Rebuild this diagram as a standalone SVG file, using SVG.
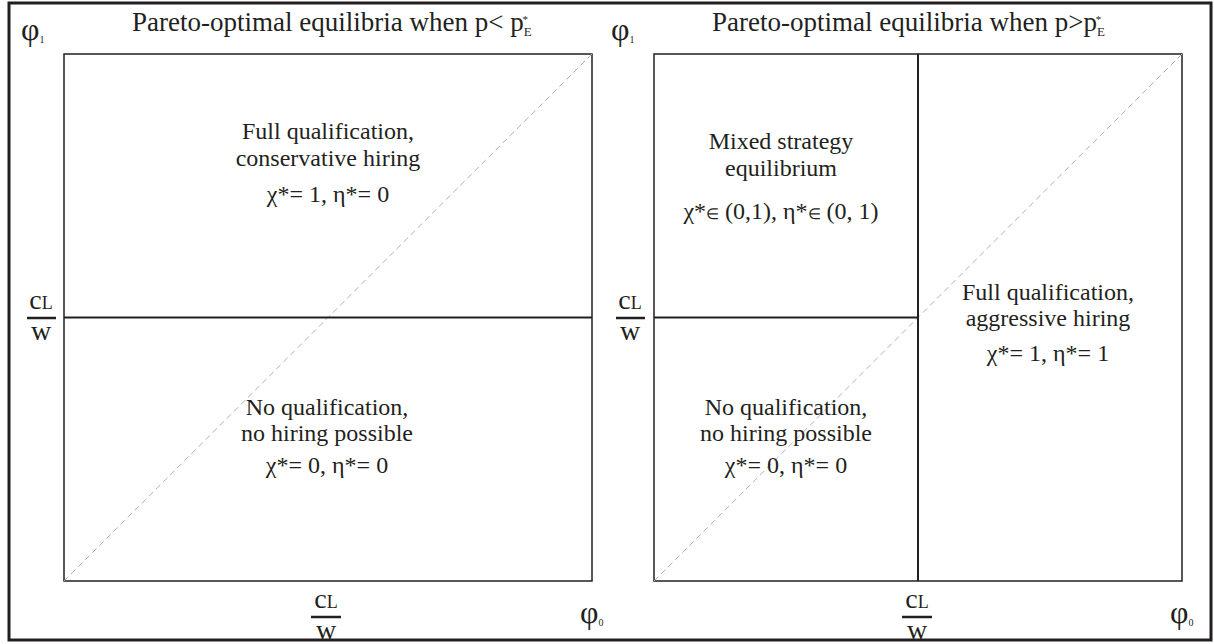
<svg xmlns="http://www.w3.org/2000/svg" width="1214" height="644" viewBox="0 0 1214 644">
<style>
text{font-family:"Liberation Serif","Times New Roman",serif;fill:#231f20}
.t{font-size:27px}
.r{font-size:24px;text-anchor:middle}
.phi{font-size:32px}
.sub{font-size:10px}
.frac{font-size:28px;text-anchor:middle}
.box{fill:none;stroke:#231f20;stroke-width:1.5}
.div{stroke:#231f20;stroke-width:2}
.diag{stroke:#b0b0b0;stroke-width:1;stroke-dasharray:6 4}
.bar{stroke:#231f20;stroke-width:2.5}
</style>
<rect x="0" y="0" width="1214" height="644" fill="#fff"/>
<rect x="9" y="3" width="1202" height="637" fill="none" stroke="#231f20" stroke-width="3"/>

<g id="panel-left">
<rect class="box" x="64" y="54" width="528" height="527"/>
<text class="t" font-family="Liberation Serif, serif" x="132" y="31">Pareto-optimal equilibria when p&lt; p<tspan font-size="13" dy="5">E</tspan><tspan font-size="11" dx="-9" dy="-13">*</tspan></text>
<text class="phi" font-family="Liberation Serif, serif" x="21" y="40">φ<tspan class="sub" dy="3">1</tspan></text>
<text class="phi" font-family="Liberation Serif, serif" x="580" y="623">φ<tspan class="sub" dy="3">0</tspan></text>
</g>

<g id="panel-right">
<rect class="box" x="654" y="54" width="528" height="527"/>
<text class="t" font-family="Liberation Serif, serif" x="712" y="31">Pareto-optimal equilibria when p&gt;p<tspan font-size="13" dy="5">E</tspan><tspan font-size="11" dx="-9" dy="-13">*</tspan></text>
<text class="phi" font-family="Liberation Serif, serif" x="611" y="40">φ<tspan class="sub" dy="3">1</tspan></text>
<text class="phi" font-family="Liberation Serif, serif" x="1170" y="623">φ<tspan class="sub" dy="3">0</tspan></text>
</g>

<g id="connectors">
<line class="diag" x1="64" y1="581" x2="592" y2="54"/>
<line class="diag" x1="654" y1="581" x2="1182" y2="54"/>
<line class="div" x1="64" y1="317.5" x2="592" y2="317.5"/>
<line class="div" x1="918" y1="54" x2="918" y2="581"/>
<line class="div" x1="654" y1="317.5" x2="918" y2="317.5"/>
</g>

<g id="axis-left-y">
<text class="frac" font-family="Liberation Serif, serif" x="41" y="309">c<tspan font-size="18">L</tspan></text>
<line class="bar" x1="27" y1="318" x2="56" y2="318"/>
<text class="frac" font-family="Liberation Serif, serif" x="41" y="340">w</text>
</g>
<g id="axis-left-x">
<text class="frac" font-family="Liberation Serif, serif" x="326" y="608">c<tspan font-size="18">L</tspan></text>
<line class="bar" x1="311" y1="617" x2="341" y2="617"/>
<text class="frac" font-family="Liberation Serif, serif" x="326" y="639">w</text>
</g>
<g id="axis-right-y">
<text class="frac" font-family="Liberation Serif, serif" x="630" y="309">c<tspan font-size="18">L</tspan></text>
<line class="bar" x1="616" y1="318" x2="645" y2="318"/>
<text class="frac" font-family="Liberation Serif, serif" x="630" y="340">w</text>
</g>
<g id="axis-right-x">
<text class="frac" font-family="Liberation Serif, serif" x="917" y="608">c<tspan font-size="18">L</tspan></text>
<line class="bar" x1="902" y1="617" x2="932" y2="617"/>
<text class="frac" font-family="Liberation Serif, serif" x="917" y="639">w</text>
</g>

<g id="region-left-top" font-family="Liberation Serif, serif">
<text class="r" x="328" y="139">Full qualification,</text>
<text class="r" x="328" y="166">conservative hiring</text>
<text class="r" x="328" y="202">χ*= 1, η*= 0</text>
</g>
<g id="region-left-bottom" font-family="Liberation Serif, serif">
<text class="r" x="327" y="415">No qualification,</text>
<text class="r" x="327" y="441">no hiring possible</text>
<text class="r" x="327" y="473">χ*= 0, η*= 0</text>
</g>
<g id="region-right-topleft" font-family="Liberation Serif, serif">
<text class="r" x="781" y="149">Mixed strategy</text>
<text class="r" x="781" y="176">equilibrium</text>
<text class="r" x="781" y="219">χ*<tspan font-size="15">∈</tspan> (0,1), η*<tspan font-size="15">∈</tspan> (0, 1)</text>
</g>
<g id="region-right-bottomleft" font-family="Liberation Serif, serif">
<text class="r" x="786" y="415">No qualification,</text>
<text class="r" x="786" y="441">no hiring possible</text>
<text class="r" x="786" y="473">χ*= 0, η*= 0</text>
</g>
<g id="region-right-right" font-family="Liberation Serif, serif">
<text class="r" x="1048" y="300">Full qualification,</text>
<text class="r" x="1048" y="326">aggressive hiring</text>
<text class="r" x="1048" y="361">χ*= 1, η*= 1</text>
</g>
</svg>
